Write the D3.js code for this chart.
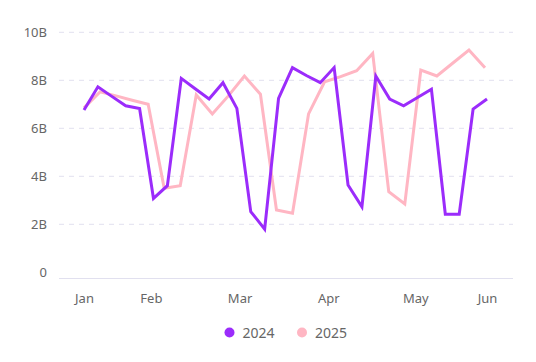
<!DOCTYPE html>
<html>
<head>
<meta charset="utf-8">
<script src="https://cdn.jsdelivr.net/npm/d3@7/dist/d3.min.js"></script>
<style>
  body { margin: 0; background: #fff; }
  text { font-family: "Noto Sans", sans-serif; fill: #666; }
</style>
</head>
<body>
<div id="vis"></div>
<script>
// Frame size and margins
const FRAME_WIDTH = 536;
const FRAME_HEIGHT = 362;
const MARGINS = {left: 59, right: 23, top: 32, bottom: 90};

// Data (billions)
const MONTHS = ["Jan", "Feb", "Mar", "Apr", "May", "Jun"];
// where each month label sits on the 0..1 period axis
const MONTH_POS = [0, 0.166, 0.386, 0.606, 0.822, 1.0];
const Y_TICKS = [0, 2, 4, 6, 8, 10];
const SERIES_NAMES = ["2024", "2025"];
const COLORS = ["#9b2cfb", "#ffb6c3"];

const VALUES_2024 = [6.76, 7.73, 7.33, 6.94, 6.82, 3.08, 3.61, 8.08, 7.65, 7.22,
                     7.9, 6.83, 2.53, 1.8, 7.25, 8.53, 8.2, 7.9, 8.53, 3.64,
                     2.73, 8.18, 7.22, 6.94, 7.28, 7.63, 2.42, 2.42, 6.8, 7.22];
const VALUES_2025 = [6.85, 7.52, 7.35, 7.17, 7.0, 3.5, 3.61, 7.39, 6.6, 7.35,
                     8.18, 7.42, 2.6, 2.46, 6.6, 7.94, 8.15, 8.4, 9.12, 3.36,
                     2.85, 8.43, 8.18, 8.72, 9.26, 8.52];
// last 2025 point stops just short of the end of the period
const END_2025 = 0.995;

const FRAME = d3.select("#vis")
  .append("svg")
    .attr("width", FRAME_WIDTH)
    .attr("height", FRAME_HEIGHT);

// Scales: x runs across the period, y in billions
const X_SCALE = d3.scaleLinear()
  .domain([0, 1])
  .range([84, 487]);
const Y_SCALE = d3.scaleLinear()
  .domain([0, 10])
  .range([272.3, 32.3]);

// Dashed horizontal grid (no line at zero)
FRAME.append("g")
  .selectAll("line")
  .data(Y_TICKS.filter(d => d > 0))
  .enter()
  .append("line")
    .attr("x1", MARGINS.left)
    .attr("x2", FRAME_WIDTH - MARGINS.right)
    .attr("y1", d => Y_SCALE(d))
    .attr("y2", d => Y_SCALE(d))
    .attr("stroke", "#e1e0ef")
    .attr("stroke-width", 1)
    .attr("stroke-dasharray", "5,5");

// Bottom axis line
FRAME.append("line")
  .attr("x1", MARGINS.left)
  .attr("x2", FRAME_WIDTH - MARGINS.right)
  .attr("y1", 278.5)
  .attr("y2", 278.5)
  .attr("stroke", "#e1e0ef");

// Y axis labels
const yAxis = FRAME.append("g")
  .attr("transform", "translate(47,0)")
  .call(d3.axisLeft(Y_SCALE).tickValues(Y_TICKS).tickSize(0).tickPadding(0)
    .tickFormat(d => d === 0 ? "0" : d + "B"));
yAxis.select(".domain").remove();
yAxis.selectAll("text")
  .attr("font-size", "13px")
  .attr("fill", "#666")
  .attr("font-family", "'Noto Sans', sans-serif");

// X axis month labels
const xAxis = FRAME.append("g")
  .attr("transform", "translate(0,294)")
  .call(d3.axisBottom(X_SCALE).tickValues(MONTH_POS).tickSize(0).tickPadding(0)
    .tickFormat((d, i) => MONTHS[i]));
xAxis.select(".domain").remove();
xAxis.selectAll("text")
  .attr("font-size", "13px")
  .attr("fill", "#666")
  .attr("font-family", "'Noto Sans', sans-serif");

// Lines: 2025 under 2024
const series = [
  {name: SERIES_NAMES[1], color: COLORS[1],
   points: VALUES_2025.map((v, i) => [i * END_2025 / (VALUES_2025.length - 1), v])},
  {name: SERIES_NAMES[0], color: COLORS[0],
   points: VALUES_2024.map((v, i) => [i / (VALUES_2024.length - 1), v])}
];

const line = d3.line()
  .x(d => X_SCALE(d[0]))
  .y(d => Y_SCALE(d[1]));

FRAME.append("g")
  .selectAll("path")
  .data(series)
  .enter()
  .append("path")
    .attr("d", d => line(d.points))
    .attr("fill", "none")
    .attr("stroke", d => d.color)
    .attr("stroke-width", 3)
    .attr("stroke-linejoin", "miter");

// Legend
const legend = FRAME.append("g")
  .selectAll("g")
  .data(SERIES_NAMES)
  .enter()
  .append("g")
    .attr("transform", (d, i) => "translate(" + (229.5 + i * 72.5) + ",332.5)");
legend.append("circle")
  .attr("r", 5)
  .attr("fill", (d, i) => COLORS[i]);
legend.append("text")
  .attr("x", 13)
  .attr("y", 5)
  .attr("font-size", "14px")
  .text(d => d);
</script>
</body>
</html>
